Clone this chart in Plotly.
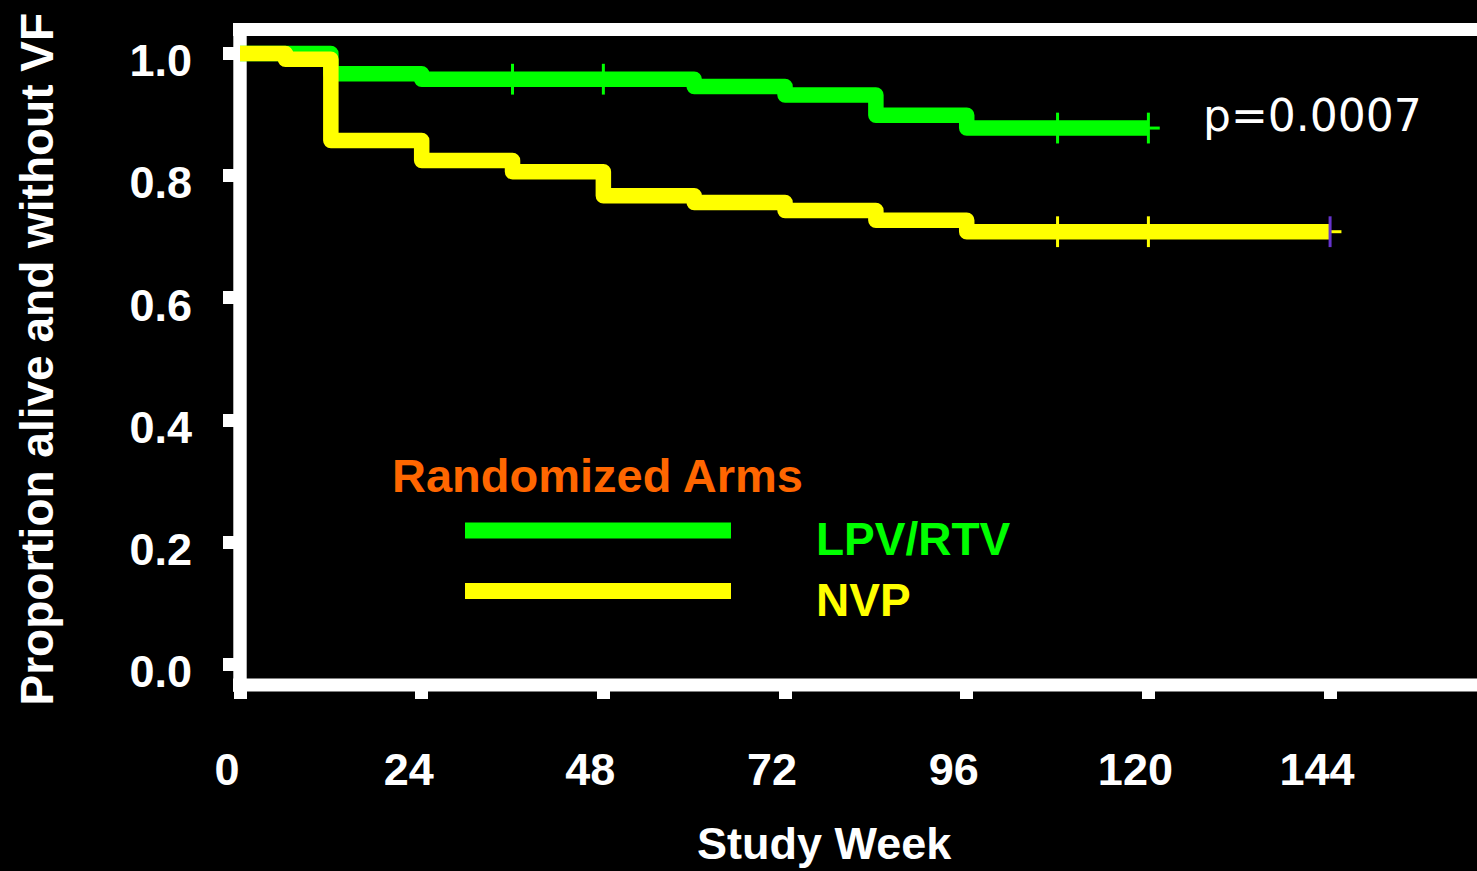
import plotly.graph_objects as go

# ---- data ----
lpv_weeks = [0, 12, 24, 60, 72, 84, 96, 120]
lpv_surv = [1.0, 0.9668, 0.958, 0.946, 0.932, 0.899, 0.878, 0.878]
lpv_censor_weeks = [36, 48, 108, 120]
lpv_tail_weeks = [120, 121.5]

nvp_weeks = [0, 6, 12, 24, 36, 48, 60, 72, 84, 96, 144]
nvp_surv = [1.0, 0.9907, 0.8576, 0.8249, 0.8066, 0.7671, 0.7561, 0.743, 0.7271, 0.7083, 0.7083]
nvp_censor_weeks = [108, 120, 144]
nvp_tail_weeks = [144, 145.5]

x_ticks = [0, 24, 48, 72, 96, 120, 144]
y_ticks = [0.0, 0.2, 0.4, 0.6, 0.8, 1.0]
y_ticklabels = ["0.0", "0.2", "0.4", "0.6", "0.8", "1.0"]

arm_names = ["LPV/RTV", "NVP"]
legend_title = "Randomized Arms"
p_text = "p=0.0007"
x_title = "Study Week"
y_title = "Proportion alive and without VF"

GREEN = "#00FF00"
YELLOW = "#FFFF00"
ORANGE = "#FF6600"
PURPLE = "#6633CC"


def step_value(weeks, surv, t):
    v = surv[0]
    for w, s in zip(weeks, surv):
        if w <= t:
            v = s
    return v


fig = go.Figure()

# LPV/RTV curve (drawn first, NVP overlays it)
fig.add_trace(go.Scatter(x=lpv_weeks, y=lpv_surv, mode="lines", line_shape="hv",
                         line=dict(color=GREEN, width=15.5), hoverinfo="skip", showlegend=False))
fig.add_trace(go.Scatter(x=lpv_tail_weeks, y=[step_value(lpv_weeks, lpv_surv, t) for t in lpv_tail_weeks],
                         mode="lines", line=dict(color=GREEN, width=3), hoverinfo="skip", showlegend=False))
fig.add_trace(go.Scatter(x=lpv_censor_weeks, y=[step_value(lpv_weeks, lpv_surv, t) for t in lpv_censor_weeks],
                         mode="markers", marker=dict(symbol="line-ns", size=22,
                                                     line=dict(color=GREEN, width=3)),
                         hoverinfo="skip", showlegend=False))

# NVP curve
fig.add_trace(go.Scatter(x=nvp_weeks, y=nvp_surv, mode="lines", line_shape="hv",
                         line=dict(color=YELLOW, width=15.5), hoverinfo="skip", showlegend=False))
fig.add_trace(go.Scatter(x=nvp_tail_weeks, y=[step_value(nvp_weeks, nvp_surv, t) for t in nvp_tail_weeks],
                         mode="lines", line=dict(color=YELLOW, width=3), hoverinfo="skip", showlegend=False))
nvp_censor_colors = [YELLOW] * (len(nvp_censor_weeks) - 1) + [PURPLE]
fig.add_trace(go.Scatter(x=nvp_censor_weeks, y=[step_value(nvp_weeks, nvp_surv, t) for t in nvp_censor_weeks],
                         mode="markers", marker=dict(symbol="line-ns", size=22,
                                                     line=dict(color=nvp_censor_colors, width=3)),
                         hoverinfo="skip", showlegend=False))

W, H = 1477, 871
ML, MR, MT, MB = 240, 0, 30, 186
PW, PH = W - ML - MR, H - MT - MB

def px(xpix):
    return (xpix - ML) / PW

def py(ypix):
    return (H - MB - ypix) / PH

# frame (three white lines, below the curves)
shapes = [
    dict(type="line", xref="paper", yref="paper", x0=px(233), x1=1.0, y0=py(29.5), y1=py(29.5),
         line=dict(color="white", width=13), layer="below"),
    dict(type="line", xref="paper", yref="paper", x0=px(233), x1=1.0, y0=py(685), y1=py(685),
         line=dict(color="white", width=13), layer="below"),
    dict(type="line", xref="paper", yref="paper", x0=px(240), x1=px(240), y0=py(692), y1=py(23),
         line=dict(color="white", width=13.4), layer="below"),
    # legend samples
    dict(type="line", xref="paper", yref="paper", x0=px(465), x1=px(731), y0=py(530.5), y1=py(530.5),
         line=dict(color=GREEN, width=16)),
    dict(type="line", xref="paper", yref="paper", x0=px(465), x1=px(731), y0=py(591), y1=py(591),
         line=dict(color=YELLOW, width=16)),
]

BOLD = dict(family="Liberation Sans, Arial, sans-serif", weight="bold")

annotations = [
    dict(text=legend_title, xref="paper", yref="paper", x=px(390), y=py(475.8), xanchor="left",
         yanchor="middle", showarrow=False, font=dict(size=47, color=ORANGE, **BOLD)),
    dict(text=arm_names[0], xref="paper", yref="paper", x=px(814), y=py(539.2), xanchor="left",
         yanchor="middle", showarrow=False, font=dict(size=46, color=GREEN, **BOLD)),
    dict(text=arm_names[1], xref="paper", yref="paper", x=px(814), y=py(600), xanchor="left",
         yanchor="middle", showarrow=False, font=dict(size=46, color=YELLOW, **BOLD)),
    dict(text=p_text, xref="paper", yref="paper", x=px(1201), y=py(115), xanchor="left",
         yanchor="middle", showarrow=False,
         font=dict(size=44, color="white", family="DejaVu Sans, Liberation Sans, sans-serif")),
    dict(text=x_title, xref="paper", yref="paper", x=px(824.3), y=py(870), xanchor="center",
         yanchor="bottom", showarrow=False, borderpad=0,
         font=dict(size=45, color="white", **BOLD)),
    dict(text=y_title, xref="paper", yref="paper", x=px(36.5), y=py(359), xanchor="center",
         yanchor="middle", showarrow=False, textangle=-90,
         font=dict(size=46, color="white", **BOLD)),
]

fig.update_layout(
    width=W, height=H,
    margin=dict(l=ML, r=MR, t=MT, b=MB, autoexpand=False),
    paper_bgcolor="black", plot_bgcolor="rgba(0,0,0,0)",
    shapes=shapes, annotations=annotations, showlegend=False,
    xaxis=dict(range=[0, PW / 7.57], tickmode="array", tickvals=x_ticks,
               ticks="outside", ticklen=13, tickwidth=13, tickcolor="white",
               showline=False, showgrid=False, zeroline=False,
               tickfont=dict(size=45, color="white", **BOLD),
               ticklabelshift=-13, ticklabelstandoff=32),
    yaxis=dict(range=[-(685 - 664.3) / 610.75, 1 + (53.55 - 30) / 610.75], tickmode="array",
               tickvals=y_ticks, ticktext=y_ticklabels,
               ticks="outside", ticklen=16, tickwidth=13, tickcolor="white",
               showline=False, showgrid=False, zeroline=False,
               tickfont=dict(size=45, color="white", **BOLD),
               ticklabelshift=7, ticklabelstandoff=22),
)

fig.write_html(
    "out.html", config={"displayModeBar": False},
    post_script=(
        "document.body.style.margin='0';document.body.style.overflow='hidden';"
        "document.querySelectorAll('.scatterlayer .js-line').forEach(function(p){"
        "p.style.strokeLinejoin='round';});"
    ),
)
